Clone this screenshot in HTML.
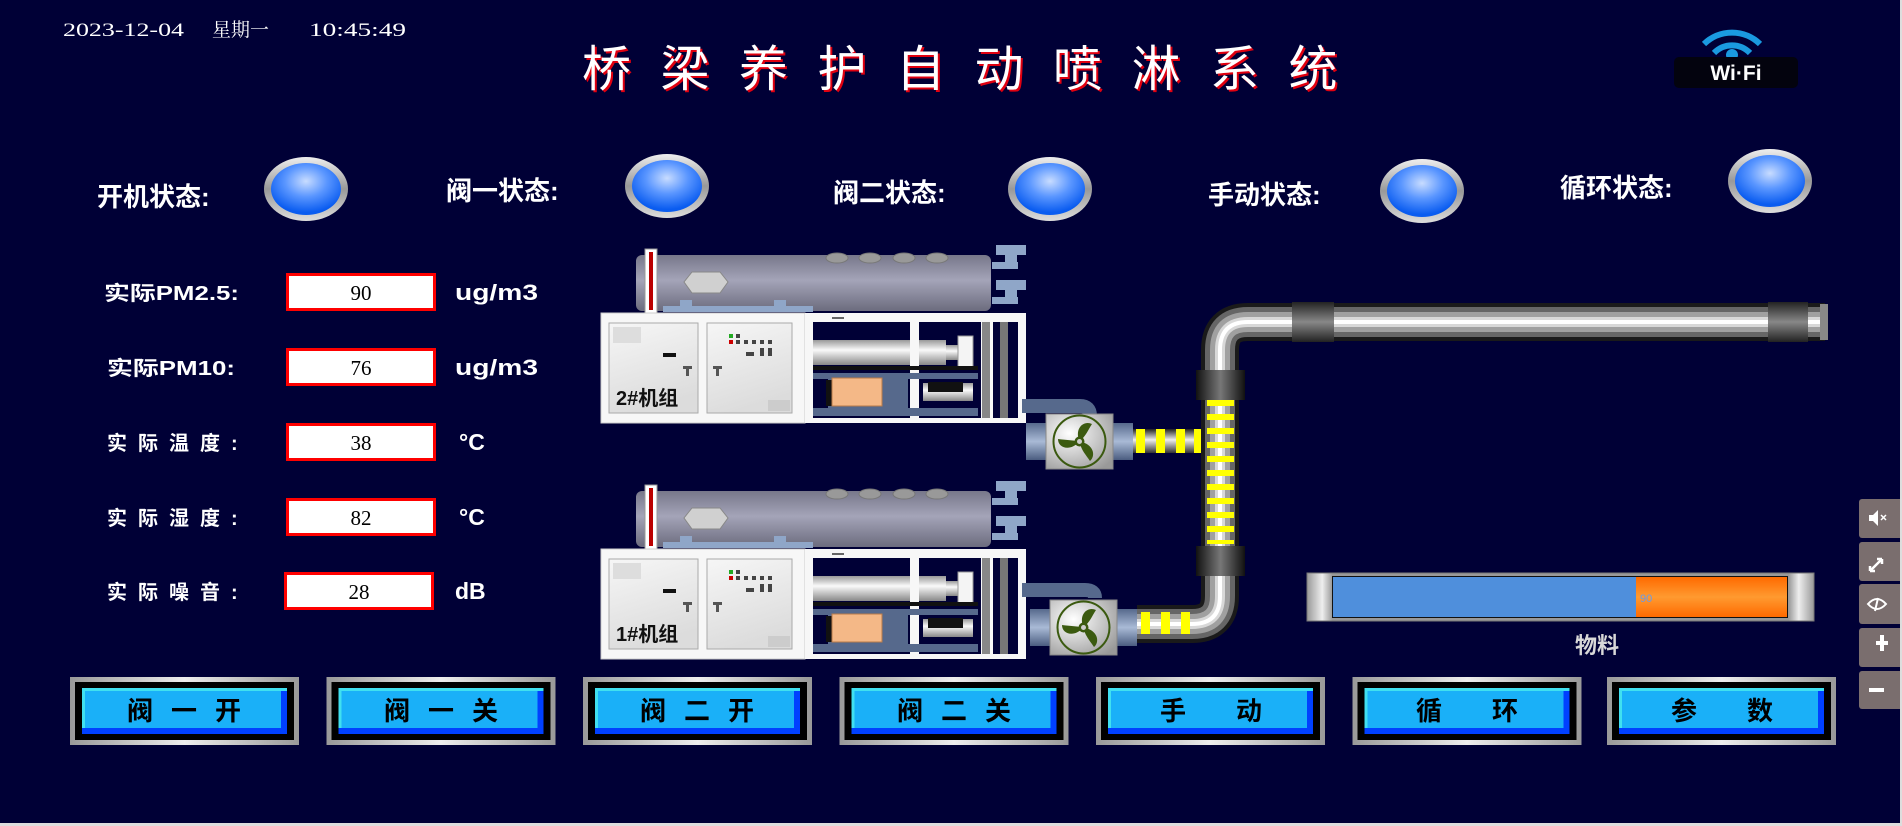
<!DOCTYPE html>
<html><head><meta charset="utf-8"><style>
html,body{margin:0;padding:0;background:#000036;overflow:hidden}
svg{display:block}
.lb{font-family:"Liberation Sans","Noto Sans CJK SC",sans-serif;font-weight:bold;fill:#fff}
</style></head><body>
<svg width="1902" height="826" viewBox="0 0 1902 826" xmlns="http://www.w3.org/2000/svg">
<defs>
<radialGradient id="lamp" cx="0.5" cy="0.35" r="0.6"><stop offset="0" stop-color="#c8dcff"/><stop offset="0.5" stop-color="#5a96ff"/><stop offset="1" stop-color="#0a5cf0"/></radialGradient>
<linearGradient id="ring" x1="0" y1="0" x2="0" y2="1"><stop offset="0" stop-color="#eee"/><stop offset="0.5" stop-color="#999"/><stop offset="1" stop-color="#ddd"/></linearGradient>
<linearGradient id="tank" x1="0" y1="0" x2="0" y2="1"><stop offset="0" stop-color="#77778a"/><stop offset="0.45" stop-color="#a4a4b8"/><stop offset="1" stop-color="#6c6c7e"/></linearGradient>
<linearGradient id="cyl" x1="0" y1="0" x2="0" y2="1"><stop offset="0" stop-color="#999"/><stop offset="0.4" stop-color="#fafafa"/><stop offset="1" stop-color="#888"/></linearGradient>
<linearGradient id="panel" x1="0" y1="0" x2="0.3" y2="1"><stop offset="0" stop-color="#f6f6f6"/><stop offset="1" stop-color="#dcdcdc"/></linearGradient>
<linearGradient id="hp" x1="0" y1="0" x2="0" y2="1"><stop offset="0" stop-color="#222"/><stop offset="0.45" stop-color="#eee"/><stop offset="1" stop-color="#333"/></linearGradient>
<linearGradient id="vcol" x1="0" y1="0" x2="1" y2="0"><stop offset="0" stop-color="#111"/><stop offset="0.5" stop-color="#777"/><stop offset="1" stop-color="#111"/></linearGradient>
<linearGradient id="hcol" x1="0" y1="0" x2="0" y2="1"><stop offset="0" stop-color="#222"/><stop offset="0.5" stop-color="#888"/><stop offset="1" stop-color="#222"/></linearGradient>
<radialGradient id="fanbg" cx="0.35" cy="0.35" r="0.8"><stop offset="0" stop-color="#fff"/><stop offset="1" stop-color="#999"/></radialGradient>
<linearGradient id="flg" x1="0" y1="0" x2="0" y2="1"><stop offset="0" stop-color="#56698c"/><stop offset="0.5" stop-color="#a9bad6"/><stop offset="1" stop-color="#4b5d80"/></linearGradient>
<linearGradient id="btnframe" x1="0" y1="0" x2="1" y2="0"><stop offset="0" stop-color="#999"/><stop offset="0.5" stop-color="#eee"/><stop offset="1" stop-color="#999"/></linearGradient>
<linearGradient id="orange" x1="0" y1="0" x2="0" y2="1"><stop offset="0" stop-color="#ff6a00"/><stop offset="0.5" stop-color="#ff9a30"/><stop offset="1" stop-color="#ff6a00"/></linearGradient>
<linearGradient id="barframe" x1="0" y1="0" x2="1" y2="0"><stop offset="0" stop-color="#999"/><stop offset="0.03" stop-color="#eee"/><stop offset="0.05" stop-color="#999"/><stop offset="0.95" stop-color="#999"/><stop offset="0.97" stop-color="#eee"/><stop offset="1" stop-color="#999"/></linearGradient>

<g id="unit">
  <rect x="636" y="255" width="355" height="56" rx="6" fill="url(#tank)"/>
  <ellipse cx="837" cy="258" rx="11" ry="5" fill="#999" stroke="#777"/>
  <ellipse cx="870" cy="258" rx="11" ry="5" fill="#999" stroke="#777"/>
  <ellipse cx="904" cy="258" rx="11" ry="5" fill="#999" stroke="#777"/>
  <ellipse cx="937" cy="258" rx="11" ry="5" fill="#999" stroke="#777"/>
  <polygon points="692,272 720,272 728,282 720,293 692,293 684,282" fill="#d0d0d0" stroke="#888"/>
  <rect x="645" y="249" width="12" height="64" fill="#fff" stroke="#999"/>
  <rect x="649" y="252" width="4" height="58" fill="#b00"/>
  <rect x="663" y="306" width="150" height="6" fill="#8fa6c8"/>
  <rect x="680" y="300" width="12" height="12" fill="#8fa6c8"/>
  <rect x="774" y="300" width="12" height="12" fill="#8fa6c8"/>
  <path d="M996 245h30v10h-9v8h-12v-8h-9z M992 262h26v7h-26z" fill="#8fa6c8"/>
  <path d="M996 280h30v10h-9v8h-12v-8h-9z M992 297h26v7h-26z" fill="#8fa6c8"/>
  <rect x="601" y="313" width="204" height="110" fill="#f7f7f7" stroke="#ccc"/>
  <rect x="609" y="323" width="89" height="90" fill="url(#panel)" stroke="#aaa"/>
  <rect x="707" y="323" width="85" height="90" fill="url(#panel)" stroke="#aaa"/>
  <rect x="613" y="327" width="28" height="16" fill="#ddd"/>
  <rect x="768" y="400" width="22" height="11" fill="#ccc"/>
  <rect x="663" y="353" width="13" height="4" fill="#111"/>
  <rect x="683" y="366" width="9" height="3" fill="#555"/><rect x="686" y="368" width="3" height="8" fill="#555"/>
  <rect x="713" y="366" width="9" height="3" fill="#555"/><rect x="716" y="368" width="3" height="8" fill="#555"/>
  <rect x="729" y="334" width="4" height="4" fill="#2a2"/><rect x="729" y="340" width="4" height="4" fill="#c00"/>
  <rect x="736" y="334" width="4" height="4" fill="#444"/><rect x="736" y="340" width="4" height="4" fill="#444"/>
  <rect x="744" y="340" width="4" height="4" fill="#444"/><rect x="752" y="340" width="4" height="4" fill="#444"/><rect x="760" y="340" width="4" height="4" fill="#444"/><rect x="768" y="340" width="4" height="4" fill="#444"/>
  <rect x="760" y="348" width="4" height="4" fill="#444"/><rect x="768" y="348" width="4" height="4" fill="#444"/>
  <rect x="746" y="352" width="8" height="4" fill="#444"/><rect x="760" y="352" width="4" height="4" fill="#444"/><rect x="768" y="352" width="4" height="4" fill="#444"/>
  <rect x="805" y="313" width="221" height="110" fill="#f7f7f7"/>
  <rect x="813" y="322" width="97" height="96" fill="#000036"/>
  <rect x="919" y="322" width="62" height="96" fill="#000036"/>
  <rect x="993" y="322" width="25" height="96" fill="#000036"/>
  <rect x="832" y="317" width="12" height="2" fill="#666"/>
  <rect x="813" y="340" width="97" height="25" fill="url(#cyl)"/>
  <rect x="919" y="340" width="27" height="25" fill="url(#cyl)"/>
  <rect x="946" y="345" width="12" height="15" fill="url(#cyl)"/>
  <rect x="958" y="336" width="15" height="33" fill="#f4f4f4" stroke="#999"/>
  <rect x="813" y="366" width="165" height="4" fill="#111"/>
  <rect x="813" y="373" width="165" height="6" fill="#56698c"/>
  <rect x="828" y="379" width="80" height="32" fill="#56698c"/>
  <rect x="826" y="380" width="6" height="26" fill="#111"/>
  <rect x="832" y="378" width="50" height="28" fill="#f4b887" stroke="#b87a4a"/>
  <rect x="923" y="383" width="50" height="18" fill="url(#cyl)"/>
  <rect x="928" y="382" width="35" height="10" fill="#111"/>
  <rect x="813" y="408" width="165" height="8" fill="#56698c"/>
  <rect x="982" y="322" width="8" height="96" fill="#888"/>
  <rect x="1000" y="322" width="8" height="96" fill="#777"/>
</g>
<g id="fan">
  <rect x="0" y="9" width="20" height="37" fill="url(#flg)"/>
  <rect x="87" y="9" width="20" height="37" fill="url(#flg)"/>
  <rect x="20" y="0" width="67" height="55" fill="url(#fanbg)" stroke="#888"/>
  <circle cx="53.5" cy="27.5" r="26" fill="none" stroke="#3b5a10" stroke-width="2"/>
  <g fill="#3b5a10">
    <path d="M53.5 27.5 C48 14 58 6 66 10 C62 16 60 22 53.5 27.5z"/>
    <path d="M53.5 27.5 C68 30 70 42 64 47 C60 41 55 36 53.5 27.5z"/>
    <path d="M53.5 27.5 C44 38 32 34 32 25 C40 26 46 26 53.5 27.5z"/>
    <circle cx="53.5" cy="27.5" r="5"/>
  </g>
  <circle cx="53.5" cy="27.5" r="2.5" fill="#ccc"/>
</g>
<g id="btn">
  <rect width="229" height="68" fill="url(#btnframe)"/><rect x="5" y="5" width="219" height="58" fill="#000"/>
  <rect x="12" y="11" width="205" height="46" fill="#0040ff"/><rect x="12" y="11" width="199" height="40" fill="#1ab0f8"/>
  <rect x="12" y="11" width="205" height="3" fill="#40e0f0"/><rect x="12" y="11" width="3" height="40" fill="#40e0f0"/>
</g>
</defs>

<!-- date & title -->
<g font-family="'Liberation Serif','Noto Serif CJK SC',serif" font-size="19" fill="#fff">
  <text x="63" y="36" textLength="121" lengthAdjust="spacingAndGlyphs">2023-12-04</text>
  <text x="212" y="36">星期一</text>
  <text x="309" y="36" textLength="97" lengthAdjust="spacingAndGlyphs">10:45:49</text>
</g>
<text x="584" y="88" font-family="'Noto Sans CJK SC',sans-serif" font-size="49" fill="#e00010" letter-spacing="29.5">桥梁养护自动喷淋系统</text>
<text x="582" y="86" font-family="'Noto Sans CJK SC',sans-serif" font-size="49" fill="#fff" letter-spacing="29.5">桥梁养护自动喷淋系统</text>

<!-- wifi -->
<g>
  <path d="M1704 44 a40 40 0 0 1 56 0" stroke="#1a9ae0" stroke-width="6" fill="none"/>
  <path d="M1714 53 a25 25 0 0 1 36 0" stroke="#1a9ae0" stroke-width="6" fill="none"/>
  <circle cx="1732" cy="55" r="6" fill="#1a9ae0"/>
  <rect x="1674" y="57" width="124" height="31" rx="5" fill="#03030e"/>
  <text x="1736" y="80" text-anchor="middle" font-family="'Liberation Sans',sans-serif" font-weight="bold" font-size="21" fill="#fff">Wi·Fi</text>
</g>

<!-- status -->
<text class="lb" x="97" y="206" font-size="26">开机状态:</text>
<text class="lb" x="446" y="200" font-size="26">阀一状态:</text>
<text class="lb" x="833" y="202" font-size="26">阀二状态:</text>
<text class="lb" x="1208" y="204" font-size="26">手动状态:</text>
<text class="lb" x="1560" y="197" font-size="26">循环状态:</text>
<g>
  <ellipse cx="306" cy="189" rx="42" ry="32" fill="url(#ring)"/><ellipse cx="306" cy="189" rx="35" ry="26" fill="url(#lamp)"/>
  <ellipse cx="667" cy="186" rx="42" ry="32" fill="url(#ring)"/><ellipse cx="667" cy="186" rx="35" ry="26" fill="url(#lamp)"/>
  <ellipse cx="1050" cy="189" rx="42" ry="32" fill="url(#ring)"/><ellipse cx="1050" cy="189" rx="35" ry="26" fill="url(#lamp)"/>
  <ellipse cx="1422" cy="191" rx="42" ry="32" fill="url(#ring)"/><ellipse cx="1422" cy="191" rx="35" ry="26" fill="url(#lamp)"/>
  <ellipse cx="1770" cy="181" rx="42" ry="32" fill="url(#ring)"/><ellipse cx="1770" cy="181" rx="35" ry="26" fill="url(#lamp)"/>
</g>

<!-- fields -->
<g font-family="'Liberation Sans','Noto Sans CJK SC',sans-serif" font-weight="bold" fill="#fff" font-size="20">
  <text x="104" y="300" textLength="135" lengthAdjust="spacingAndGlyphs">实际PM2.5:</text>
  <text x="107" y="375" textLength="128" lengthAdjust="spacingAndGlyphs">实际PM10:</text>
  <text x="107" y="450" letter-spacing="11">实际温度:</text>
  <text x="107" y="525" letter-spacing="11">实际湿度:</text>
  <text x="107" y="599" letter-spacing="11">实际噪音:</text>
  <text x="455" y="300" font-size="22" textLength="83" lengthAdjust="spacingAndGlyphs">ug/m3</text>
  <text x="455" y="375" font-size="22" textLength="83" lengthAdjust="spacingAndGlyphs">ug/m3</text>
  <text x="459" y="450" font-size="23">°C</text>
  <text x="459" y="525" font-size="23">°C</text>
  <text x="455" y="599" font-size="23">dB</text>
</g>
<g fill="#fff" stroke="#f00" stroke-width="3">
  <rect x="287.5" y="274.5" width="147" height="35"/>
  <rect x="287.5" y="349.5" width="147" height="35"/>
  <rect x="287.5" y="424.5" width="147" height="35"/>
  <rect x="287.5" y="499.5" width="147" height="35"/>
  <rect x="285.5" y="573.5" width="147" height="35"/>
</g>
<g font-family="'Liberation Serif',serif" font-size="21" fill="#000" text-anchor="middle">
  <text x="361" y="300">90</text><text x="361" y="375">76</text><text x="361" y="450">38</text><text x="361" y="525">82</text><text x="359" y="599">28</text>
</g>

<!-- machines -->
<use href="#unit"/>
<use href="#unit" transform="translate(0,236)"/>
<text x="616" y="405" font-family="'Liberation Sans','Noto Sans CJK SC',sans-serif" font-weight="bold" font-size="20" fill="#111">2#机组</text>
<text x="616" y="641" font-family="'Liberation Sans','Noto Sans CJK SC',sans-serif" font-weight="bold" font-size="20" fill="#111">1#机组</text>

<path d="M1022 406 H1080 Q1090 406 1090 416" stroke="#56698c" stroke-width="14" fill="none"/>
<path d="M1022 590 H1085 Q1095 590 1095 598" stroke="#56698c" stroke-width="14" fill="none"/>
<use href="#fan" transform="translate(1026,414)"/>
<use href="#fan" transform="translate(1030,600)"/>

<!-- pipes -->
<g fill="none" stroke-linejoin="round">
  <path d="M1137 624 H1192 Q1220 624 1220 596 V350 Q1220 322 1248 322 H1825" stroke="#1a1a1a" stroke-width="38"/>
  <path d="M1137 624 H1192 Q1220 624 1220 596 V350 Q1220 322 1248 322 H1825" stroke="#666" stroke-width="30"/>
  <path d="M1137 624 H1192 Q1220 624 1220 596 V350 Q1220 322 1248 322 H1825" stroke="#a0a0a0" stroke-width="20"/>
  <path d="M1137 624 H1192 Q1220 624 1220 596 V350 Q1220 322 1248 322 H1825" stroke="#d8d8d8" stroke-width="10"/>
  <path d="M1137 624 H1192 Q1220 624 1220 596 V350 Q1220 322 1248 322 H1825" stroke="#fff" stroke-width="4"/>
</g>
<rect x="1820" y="304" width="8" height="36" fill="#888"/>
<rect x="1133" y="429" width="68" height="24" fill="url(#hp)"/>
<rect x="1196" y="370" width="49" height="30" fill="url(#vcol)"/>
<rect x="1196" y="546" width="49" height="30" fill="url(#vcol)"/>
<rect x="1292" y="302" width="42" height="40" fill="url(#hcol)"/>
<rect x="1768" y="302" width="40" height="40" fill="url(#hcol)"/>
<g fill="#ffff00">
  <rect x="1207" y="400" width="27" height="6"/><rect x="1207" y="414" width="27" height="6"/><rect x="1207" y="428" width="27" height="6"/>
  <rect x="1207" y="442" width="27" height="6"/><rect x="1207" y="456" width="27" height="6"/><rect x="1207" y="470" width="27" height="6"/>
  <rect x="1207" y="484" width="27" height="6"/><rect x="1207" y="498" width="27" height="6"/><rect x="1207" y="512" width="27" height="6"/>
  <rect x="1207" y="526" width="27" height="6"/><rect x="1207" y="540" width="27" height="4"/>
  <rect x="1136" y="429" width="9" height="24"/><rect x="1156" y="429" width="9" height="24"/><rect x="1176" y="429" width="9" height="24"/><rect x="1194" y="429" width="7" height="24"/>
  <rect x="1141" y="612" width="9" height="22"/><rect x="1161" y="612" width="9" height="22"/><rect x="1181" y="612" width="9" height="22"/>
</g>

<!-- progress bar -->
<rect x="1307" y="573" width="507" height="48" fill="url(#barframe)" stroke="#777"/>
<rect x="1332" y="576" width="456" height="42" fill="#111"/>
<rect x="1333" y="577" width="303" height="40" fill="#4f8fdc"/>
<rect x="1636" y="577" width="151" height="40" fill="url(#orange)"/>
<text x="1640" y="602" font-family="'Liberation Sans',sans-serif" font-size="11" fill="#6a9ae8">90</text>
<text x="1597" y="653" text-anchor="middle" font-family="'Liberation Sans','Noto Sans CJK SC',sans-serif" font-weight="bold" font-size="22" fill="#d8d8d8">物料</text>

<!-- buttons -->
<use href="#btn" transform="translate(70,677)"/>
<use href="#btn" transform="translate(326.5,677)"/>
<use href="#btn" transform="translate(583,677)"/>
<use href="#btn" transform="translate(839.5,677)"/>
<use href="#btn" transform="translate(1096,677)"/>
<use href="#btn" transform="translate(1352.5,677)"/>
<use href="#btn" transform="translate(1607,677)"/>
<g font-family="'Liberation Sans','Noto Sans CJK SC',sans-serif" font-weight="bold" font-size="26" fill="#000" text-anchor="middle">
  <text x="140" y="720">阀</text><text x="184" y="720">一</text><text x="228" y="720">开</text>
  <text x="397" y="720">阀</text><text x="441" y="720">一</text><text x="485" y="720">关</text>
  <text x="653" y="720">阀</text><text x="697" y="720">二</text><text x="741" y="720">开</text>
  <text x="910" y="720">阀</text><text x="954" y="720">二</text><text x="998" y="720">关</text>
  <text x="1173" y="720">手</text><text x="1249" y="720">动</text>
  <text x="1429" y="720">循</text><text x="1505" y="720">环</text>
  <text x="1684" y="720">参</text><text x="1760" y="720">数</text>
</g>

<!-- side toolbar -->
<g fill="#7a6e6e">
  <rect x="1859" y="499" width="50" height="39" rx="3"/>
  <rect x="1859" y="542" width="50" height="39" rx="3"/>
  <rect x="1859" y="584" width="50" height="40" rx="3"/>
  <rect x="1859" y="628" width="50" height="39" rx="3"/>
  <rect x="1859" y="671" width="50" height="38" rx="3"/>
</g>
<g fill="#fff" stroke="#fff">
  <path d="M1869 515h4l5-5v16l-5-5h-4z" stroke="none"/>
  <path d="M1881 515l5 5M1886 515l-5 5" stroke-width="1.5" fill="none"/>
  <path d="M1870 571l12-12M1870 571v-5M1870 571h5M1882 559h-5M1882 559v5" stroke-width="2.5" fill="none"/>
  <path d="M1868 604q9-10 18 0q-9 10-18 0z" stroke-width="2" fill="none"/>
  <path d="M1878 598l-3 13" stroke-width="2"/>
  <path d="M1876 641h4v-6h4v6h4v4h-4v6h-4v-6h-4z" stroke="none"/>
  <rect x="1869" y="688" width="15" height="4" stroke="none"/>
</g>
<rect x="1900" y="0" width="2" height="826" fill="#ddd"/>
<rect x="0" y="823" width="1902" height="3" fill="#ddd"/>
</svg>
</body></html>
